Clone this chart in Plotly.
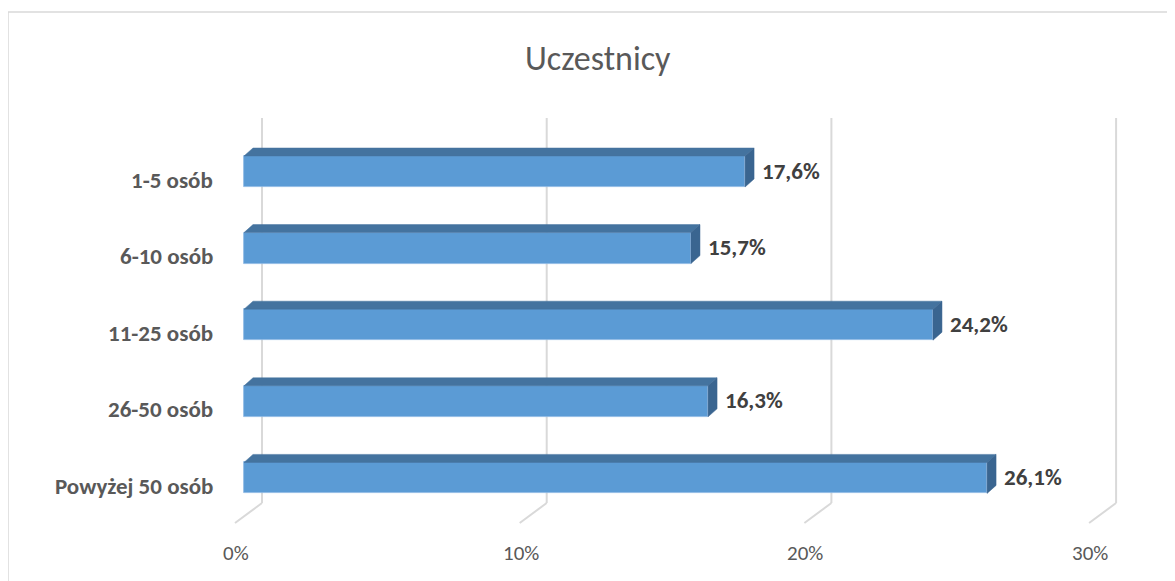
import plotly.graph_objects as go

# ---- data ----
categories = ["1-5 osób", "6-10 osób", "11-25 osób", "26-50 osób", "Powyżej 50 osób"]
values = [17.6, 15.7, 24.2, 16.3, 26.1]
tick_values = [0, 10, 20, 30]
tick_labels = ["0%", "10%", "20%", "30%"]
title_text = "Uczestnicy"

# ---- layout constants (page pixels of the reference) ----
OFF = 8                                    # default body margin of the html page
W, H = 1175 - OFF, 581 - OFF
L, R, T, B = 200, 1160, 110, 530           # plot area (page px)
X0_PX = 244                                # page px of value 0 on the front plane
PXU = 28.47                                # pixels per 1 % unit
ROW0_PX, ROW_PX = 171.5, 76.6              # centre of first bar, row pitch
BAR_PX = 31                                 # bar face thickness
DX_PX, DY_PX = 9, 8                         # 3-D depth offset
BACK_DX = 18                                # back wall offset of gridlines
GRID_TOP, GRID_BOT, FLOOR_BOT = 118, 503, 523
FLOOR_DX = -9
TICK_Y = 553

FONT = "Carlito, Calibri, Lato, sans-serif"

x_range = [(L - X0_PX) / PXU, (R - X0_PX) / PXU]
y_top = -(ROW0_PX - T) / ROW_PX
y_bot = (len(categories) - 1) + (B - (ROW0_PX + ROW_PX * (len(categories) - 1))) / ROW_PX
bw = BAR_PX / ROW_PX
dx = DX_PX / PXU
dy = DY_PX / ROW_PX


def py(p):
    return (B - p) / (B - T)


def px(p):
    return (p - L) / (R - L)


ypos = list(range(len(categories)))

fig = go.Figure()
fig.add_trace(go.Bar(
    x=values, y=ypos, orientation="h", width=bw,
    marker=dict(color="#5B9BD5", line=dict(color="#8DB8E3", width=0.8)),
    hoverinfo="skip", showlegend=False,
))

for v, yc in zip(values, ypos):
    top = yc - bw / 2
    bot = yc + bw / 2
    # top face
    fig.add_trace(go.Scatter(
        x=[0, v, v + dx, dx, 0], y=[top, top, top - dy, top - dy, top],
        fill="toself", fillcolor="#44739F", mode="lines",
        line=dict(color="#44739F", width=0.5),
        hoverinfo="skip", showlegend=False,
    ))
    # side face
    fig.add_trace(go.Scatter(
        x=[v, v + dx, v + dx, v, v], y=[top, top - dy, bot - dy, bot, top],
        fill="toself", fillcolor="#3A6590", mode="lines",
        line=dict(color="#3A6590", width=0.5),
        hoverinfo="skip", showlegend=False,
    ))

shapes = []
for t in tick_values:
    shapes.append(dict(type="line", xref="x", yref="paper", xsizemode="pixel", xanchor=t,
                       x0=BACK_DX, x1=BACK_DX, y0=py(GRID_TOP), y1=py(GRID_BOT),
                       line=dict(color="#D9D9D9", width=2), layer="below"))
    shapes.append(dict(type="line", xref="x", yref="paper", xsizemode="pixel", xanchor=t,
                       x0=BACK_DX, x1=FLOOR_DX, y0=py(GRID_BOT), y1=py(FLOOR_BOT),
                       line=dict(color="#D9D9D9", width=2), layer="below"))
# chart border (top and left visible)
shapes.append(dict(type="line", xref="paper", yref="paper", x0=px(8), x1=px(1200), y0=py(12), y1=py(12),
                   line=dict(color="#D9D9D9", width=1.5)))
shapes.append(dict(type="line", xref="paper", yref="paper", x0=px(8), x1=px(8), y0=py(12), y1=py(600),
                   line=dict(color="#D9D9D9", width=1.5)))

annotations = []
for v, yc in zip(values, ypos):
    annotations.append(dict(
        x=v, y=yc, xref="x", yref="y", xanchor="left", yanchor="middle",
        xshift=DX_PX + 6, yshift=1, showarrow=False,
        text="<b>" + f"{v:.1f}".replace(".", ",") + "%</b>",
        font=dict(family=FONT, size=23, color="#404040"),
    ))
for c, yc in zip(categories, ypos):
    annotations.append(dict(
        x=0, y=yc, xref="x", yref="y", xanchor="right", yanchor="middle",
        xshift=-(X0_PX - 215), yshift=-8, showarrow=False,
        text="<b>" + c + "</b>",
        font=dict(family=FONT, size=23, color="#595959"),
    ))
for t, lab in zip(tick_values, tick_labels):
    annotations.append(dict(
        x=t, y=py(TICK_Y), xref="x", yref="paper", xanchor="center", yanchor="middle",
        xshift=FLOOR_DX + 1, showarrow=False, text=lab,
        font=dict(family=FONT, size=21, color="#595959"),
    ))
annotations.append(dict(
    x=px(598), y=py(58), xref="paper", yref="paper", showarrow=False,
    text=title_text, font=dict(family=FONT, size=34, color="#595959", weight=300),
    xanchor="center", yanchor="middle",
))

fig.update_layout(
    width=W, height=H,
    margin=dict(l=L - OFF, r=W - (R - OFF), t=T - OFF, b=H - (B - OFF), pad=0),
    paper_bgcolor="white", plot_bgcolor="white",
    xaxis=dict(range=x_range, showgrid=False, zeroline=False, showticklabels=False,
               showline=False, fixedrange=True),
    yaxis=dict(range=[y_bot, y_top], showgrid=False, zeroline=False, showticklabels=False,
               showline=False, fixedrange=True),
    shapes=shapes, annotations=annotations,
    bargap=0,
)

fig.write_html("out.html")
